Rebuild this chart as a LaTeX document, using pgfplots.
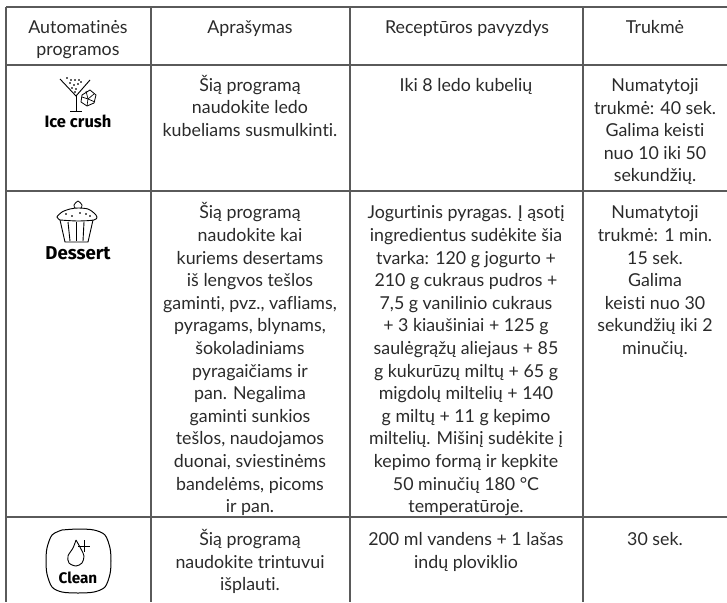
\documentclass[border=0pt]{standalone}
\usepackage{fontspec}
\setmainfont{Lato}[RawFeature={-liga}]
\newfontfamily\iconfont{Fira Sans}
\usepackage{pgfplots}
\pgfplotsset{compat=1.18}
\definecolor{tx}{HTML}{2A2A2A}
\definecolor{ln}{HTML}{5A5A5A}
\newcommand{\T}[3]{\node[anchor=base,inner sep=0pt,text=tx,font=\fontsize{17.8pt}{20pt}\selectfont] at (axis cs:#1,#2) {#3};}
\newcommand{\B}[4]{\node[anchor=base,inner sep=0pt,text=black,font=\fontsize{#4pt}{20pt}\selectfont\iconfont\bfseries] at (axis cs:#1,#2) {#3};}
\begin{document}
\begin{tikzpicture}
\path[use as bounding box] (0,0) rectangle (727pt,602pt);
\begin{axis}[at={(0,0)},anchor=south west,scale only axis,width=727pt,height=602pt,xmin=0,xmax=727,ymin=0,ymax=602,y dir=reverse,hide axis,clip=false]
% grid
\addplot[ln,line width=1.1pt] coordinates {(6,7)(727,7)};
\addplot[ln,line width=1.1pt] coordinates {(6,65)(727,65)};
\addplot[ln,line width=1.1pt] coordinates {(6,191)(727,191)};
\addplot[ln,line width=1.1pt] coordinates {(6,517)(727,517)};
\addplot[ln,line width=1.1pt] coordinates {(6,7)(6,602)};
\addplot[ln,line width=1.1pt] coordinates {(151,7)(151,602)};
\addplot[ln,line width=1.1pt] coordinates {(350,7)(350,602)};
\addplot[ln,line width=1.1pt] coordinates {(583,7)(583,602)};
% header
\T{78}{34}{Automatinės}
\T{78}{56}{programos}
\T{250}{34}{Aprašymas}
\T{467}{34}{Receptūros pavyzdys}
\T{655}{34}{Trukmė}
% row 1
\T{250}{91}{Šią programą}
\T{250}{113}{naudokite ledo}
\T{250}{136}{kubeliams susmulkinti.}
\T{466}{91}{Iki 8 ledo kubelių}
\T{655}{91}{Numatytoji}
\T{655}{114}{trukmė: 40 sek.}
\T{655}{136}{Galima keisti}
\T{655}{159}{nuo 10 iki 50}
\T{655}{181}{sekundžių.}
% row 2
\T{250}{218}{Šią programą}
\T{250}{241}{naudokite kai}
\T{250}{264}{kuriems desertams}
\T{250}{286}{iš lengvos tešlos}
\T{250}{309}{gaminti, pvz., vafliams,}
\T{250}{331}{pyragams, blynams,}
\T{250}{354}{šokoladiniams}
\T{250}{377}{pyragaičiams ir}
\T{250}{399}{pan. Negalima}
\T{250}{422}{gaminti sunkios}
\T{250}{444}{tešlos, naudojamos}
\T{250}{467}{duonai, sviestinėms}
\T{250}{490}{bandelėms, picoms}
\T{250}{512}{ir pan.}
\T{466}{218}{Jogurtinis pyragas. Į ąsotį}
\T{466}{241}{ingredientus sudėkite šia}
\T{466}{264}{tvarka: 120 g jogurto +}
\T{466}{286}{210 g cukraus pudros +}
\T{466}{309}{7,5 g vanilinio cukraus}
\T{466}{331}{+ 3 kiaušiniai + 125 g}
\T{466}{354}{saulėgrąžų aliejaus + 85}
\T{466}{377}{g kukurūzų miltų + 65 g}
\T{466}{399}{migdolų miltelių + 140}
\T{466}{422}{g miltų + 11 g kepimo}
\T{466}{444}{miltelių. Mišinį sudėkite į}
\T{466}{467}{kepimo formą ir kepkite}
\T{466}{490}{50 minučių 180 °C}
\T{466}{512}{temperatūroje.}
\T{655}{218}{Numatytoji}
\T{655}{241}{trukmė: 1 min.}
\T{655}{264}{15 sek.}
\T{655}{286}{Galima}
\T{655}{309}{keisti nuo 30}
\T{655}{331}{sekundžių iki 2}
\T{655}{354}{minučių.}
% row 3
\T{250}{545}{Šią programą}
\T{250}{568}{naudokite trintuvui}
\T{250}{590}{išplauti.}
\T{466}{545}{200 ml vandens + 1 lašas}
\T{466}{568}{indų ploviklio}
\T{655}{545}{30 sek.}
% icon: ice crush
\addplot[black,line width=0.9pt] coordinates {(60,79)(76,96)(90,80)};
\addplot[black,line width=0.9pt] coordinates {(76,96)(76,111)};
\addplot[black,line width=0.9pt] coordinates {(70,111)(82,111)};
\addplot[only marks,mark=*,mark size=0.7pt,black] coordinates {(67,78)(71,80)(75,80)(79,80)(70,83)(74,85)(78,84)(72,88)(76,89)(75,92)(81,82)};
\addplot[black,line width=0.8pt] coordinates {(90,90)(96,95)(94,103)(87,106)(81,102)(82,95)(90,90)};
\addplot[black,line width=0.7pt] coordinates {(82,97)(88,99)(94,94)};
\addplot[black,line width=0.7pt] coordinates {(88,99)(87,106)};
\addplot[black,line width=0.7pt] coordinates {(86,91)(88,99)(95,102)};
\B{78}{127}{Ice crush}{16.5}
% icon: dessert
\addplot[black,line width=0.9pt,smooth] coordinates {(60,220)(57,217)(62,212)(70,209)(78,208)(88,209)(94,213)(97,217)(94,220)(78,221)(60,220)};
\addplot[black,line width=0.9pt] coordinates {(60,220)(65,242)(88,242)(93,220)};
\addplot[black,line width=0.9pt] coordinates {(68,222)(70,241)};
\addplot[black,line width=0.9pt] coordinates {(76,222)(76,241)};
\addplot[black,line width=0.9pt] coordinates {(84,222)(83,241)};
\addplot[black,line width=0.8pt,smooth] coordinates {(75,208)(74,205)(78,201)(82,205)(81,208)};
\addplot[only marks,mark=*,mark size=0.7pt,black] coordinates {(66,214)(72,216)(80,213)(86,214)(90,216)};
\B{78}{259}{Dessert}{18.6}
% icon: clean
\addplot[black,line width=1pt,smooth] coordinates {(62,530)(78,529)(94,530)(105,535)(110,548)(111,561)(110,574)(105,587)(94,592)(78,593)(62,592)(52,587)(47,574)(46,561)(47,548)(52,535)(62,530)};
\addplot[black,line width=0.9pt,smooth] coordinates {(76,540)(73,548)(68,556)(69,563)(76,566)(82,563)(84,556)(81,549)(76,540)};
\addplot[black,line width=0.7pt] coordinates {(84,540)(84,552)};
\addplot[black,line width=0.7pt] coordinates {(78,546)(90,546)};
\B{78}{583}{Clean}{15.3}
\end{axis}
\end{tikzpicture}
\end{document}
